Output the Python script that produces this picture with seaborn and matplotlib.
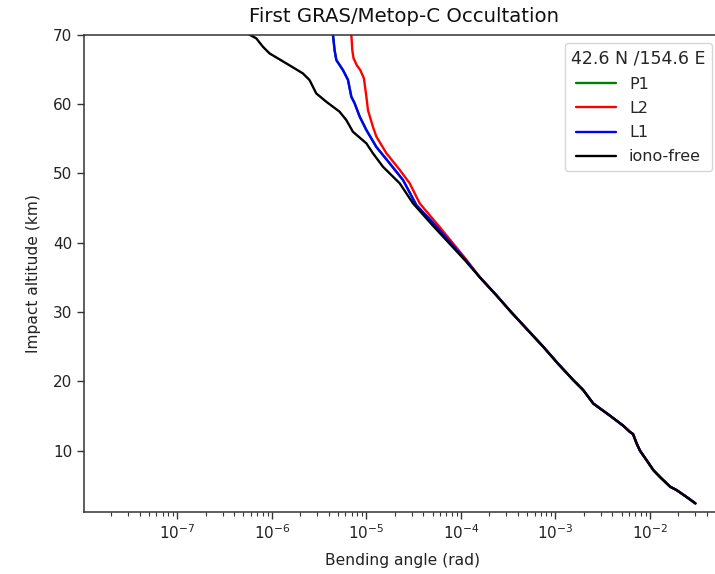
import numpy as np
import pandas as pd
import matplotlib
matplotlib.use("Agg")
import matplotlib.pyplot as plt
import matplotlib.ticker as mticker
import seaborn as sns

# ---- data (altitude km, bending angle rad) ----
alt_iono = [70.0, 69.48, 68.27, 67.3, 65.87, 64.43, 63.46, 61.54, 60.33, 58.89,
            57.69, 56.0, 54.33, 52.89, 50.95, 48.56, 45.67, 42.5, 40.0, 37.5,
            35.0, 32.5, 30.0, 27.5, 25.0, 22.5, 20.2, 18.73, 16.8, 15.05,
            13.6, 12.7, 12.4, 11.0, 10.0, 8.6, 7.2, 6.2, 4.8, 4.3, 3.3, 2.4]
ba_iono = [5.79e-7, 6.82e-7, 8.02e-7, 9.44e-7, 1.416e-6, 2.12e-6, 2.50e-6, 2.94e-6,
           3.76e-6, 5.20e-6, 6.12e-6, 7.19e-6, 9.98e-6, 1.172e-5, 1.496e-5, 2.25e-5,
           3.11e-5, 5.01e-5, 7.41e-5, 1.096e-4, 1.585e-4, 2.34e-4, 3.39e-4, 5.01e-4,
           7.41e-4, 1.072e-3, 1.538e-3, 1.968e-3, 2.51e-3, 3.77e-3, 5.21e-3, 6.14e-3,
           6.61e-3, 7.24e-3, 7.83e-3, 9.23e-3, 1.084e-2, 1.276e-2, 1.633e-2, 1.919e-2,
           2.45e-2, 3.02e-2]

alt_l2_upper = [70.0, 67.8, 66.6, 65.6, 64.9, 63.7, 61.05, 59.1, 56.7, 55.3, 52.9,
                50.5, 48.56, 45.67, 42.5, 40.0, 37.5]
ba_l2_upper = [6.92e-6, 7.08e-6, 7.30e-6, 7.90e-6, 8.60e-6, 9.40e-6, 9.98e-6, 1.038e-5,
               1.172e-5, 1.274e-5, 1.626e-5, 2.25e-5, 2.87e-5, 3.66e-5, 5.75e-5,
               8.13e-5, 1.148e-4]

alt_l1_upper = [70.0, 67.8, 66.35, 64.9, 63.5, 61.05, 60.1, 58.2, 56.25, 53.8,
                51.44, 49.03, 45.4, 42.5, 40.0, 37.5]
ba_l1_upper = [4.42e-6, 4.60e-6, 4.80e-6, 5.64e-6, 6.37e-6, 6.92e-6, 7.50e-6,
               8.47e-6, 9.98e-6, 1.274e-5, 1.762e-5, 2.44e-5, 3.38e-5, 5.37e-5,
               7.76e-5, 1.122e-4]

series_names = ["P1", "L2", "L1", "iono-free"]
series_colors = ["green", "red", "blue", "black"]
legend_title = "42.6 N /154.6 E"
x_major_ticks = [1e-7, 1e-6, 1e-5, 1e-4, 1e-3, 1e-2]
y_ticks = [10, 20, 30, 40, 50, 60, 70]

# below ~35 km all signals coincide with the iono-free profile
low_alt = [a for a in alt_iono if a <= 35.0]
low_ba = [b for a, b in zip(alt_iono, ba_iono) if a <= 35.0]
alt_l2 = alt_l2_upper + low_alt
ba_l2 = ba_l2_upper + low_ba
alt_l1 = alt_l1_upper + low_alt
ba_l1 = ba_l1_upper + low_ba

data = {
    "P1": (alt_l1, ba_l1),
    "L2": (alt_l2, ba_l2),
    "L1": (alt_l1, ba_l1),
    "iono-free": (alt_iono, ba_iono),
}

sns.set_style("white")
plt.rcParams["font.family"] = ["DejaVu Sans"]

W, H = 715, 574
fig = plt.figure(figsize=(W / 100, H / 100), dpi=100)
ax = fig.add_axes([84.3 / W, 1 - 511.7 / H, (720 - 84.3) / W, (511.7 - 34.7) / H])

for name, col in zip(series_names, series_colors):
    a, b = data[name]
    df = pd.DataFrame({"alt": a, "ba": b})
    sns.lineplot(data=df, x="ba", y="alt", sort=False, estimator=None,
                 color=col, lw=1.7, label=name, ax=ax)

ax.set_xscale("log")
ax.set_xlim(1.035e-8, 0.055)
ax.set_ylim(1.2, 70)
ax.xaxis.set_major_locator(mticker.FixedLocator(x_major_ticks))
ax.xaxis.set_major_formatter(mticker.LogFormatterSciNotation())
ax.xaxis.set_minor_locator(mticker.LogLocator(base=10, subs=np.arange(2, 10), numticks=20))
ax.xaxis.set_minor_formatter(mticker.NullFormatter())
ax.set_yticks(y_ticks)

for s in ax.spines.values():
    s.set_color("#333333")
    s.set_linewidth(1.1)
ax.tick_params(axis="both", which="major", length=5, width=1.0, color="#333333",
               labelsize=11, labelcolor="#222222", bottom=True, left=True)
ax.tick_params(axis="x", which="minor", length=3, width=0.8, color="#333333", bottom=True)

ax.set_xlabel("Bending angle (rad)", fontsize=11.2, color="#222222", labelpad=8)
ax.set_ylabel("Impact altitude (km)", fontsize=11.2, color="#222222", labelpad=9)
fig.text(404 / W, 1 - 17 / H, "First GRAS/Metop-C Occultation", ha="center",
         va="center", fontsize=14.2, color="#111111")

leg = ax.legend(title=legend_title, loc="upper left",
                bbox_to_anchor=(565 / W, 1 - 43 / H), bbox_transform=fig.transFigure,
                borderaxespad=0, fontsize=11.5, title_fontsize=12.5,
                handlelength=2.5, labelspacing=0.58, frameon=True, fancybox=True,
                framealpha=0.8)
leg.get_frame().set_edgecolor("#cccccc")

fig.savefig("out.png", dpi=100)
